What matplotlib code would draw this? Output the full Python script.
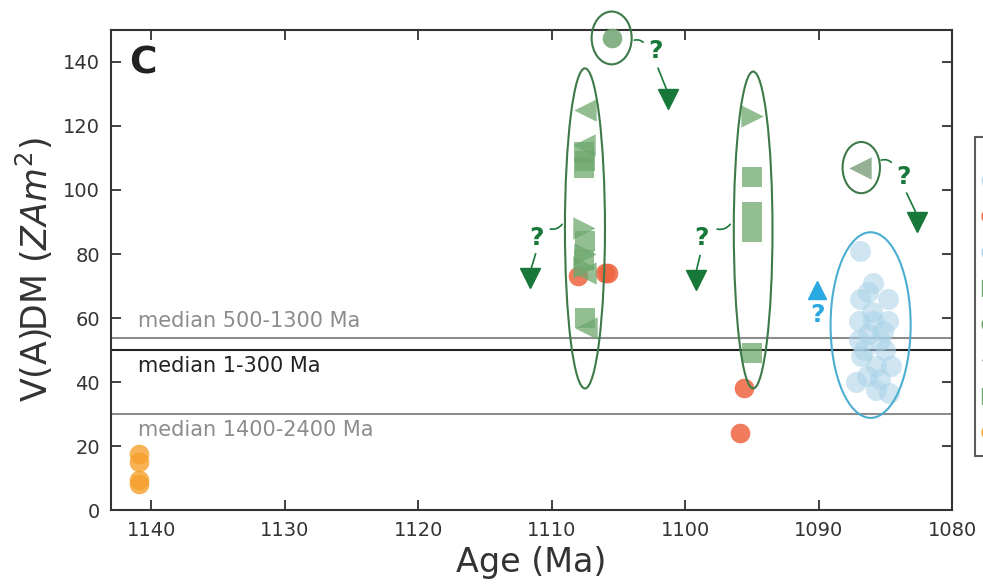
import numpy as np
import matplotlib
matplotlib.use("Agg")
import matplotlib.pyplot as plt
from matplotlib.patches import Ellipse
from matplotlib.lines import Line2D

# ---- data ----
orange_age = [1140.9, 1140.9, 1140.9, 1140.9]
orange_vdm = [17.5, 15, 9.5, 8]

red_age = [1108.0, 1106.0, 1105.8, 1095.6, 1095.9]
red_vdm = [73, 74, 74, 38, 24]

sq_age = [1107.6, 1107.5, 1107.6, 1107.5, 1107.6, 1107.5,
          1095.0, 1095.0, 1095.0, 1095.0]
sq_vdm = [112, 109, 107, 84, 78, 60,
          104, 93, 87, 49]

tri_l_age = [1107.5, 1107.6, 1107.5, 1107.4]
tri_l_vdm = [125, 114, 74, 57]

tri_r_age = [1107.6, 1107.5, 1107.6, 1095.0]
tri_r_vdm = [88, 80, 76, 123]

top_age = [1105.5]
top_vdm = [147.5]

small_age = [1086.9]
small_vdm = [107]

blue_age = [1086.9, 1085.9, 1086.9, 1084.8, 1086.3, 1085.9, 1087.0, 1084.8,
            1086.3, 1087.0, 1085.4, 1085.0, 1086.8, 1085.7, 1084.6, 1086.4,
            1085.4, 1087.2, 1085.7, 1084.7, 1086.0, 1086.6, 1085.2]
blue_vdm = [81, 71, 66, 66, 68, 59, 59, 59,
            55, 53, 53, 50, 48, 45, 45, 42,
            41, 40, 37.5, 36.5, 62, 50, 56]

median_vals = [53.7, 50, 30]
median_cols = ["#8c8c8c", "#222222", "#8c8c8c"]
median_text = ["median 500-1300 Ma", "median 1-300 Ma", "median 1400-2400 Ma"]
median_text_y = [59, 45, 25]

# ellipses: (age centre, vdm centre, width in Ma, height in units, colour)
ellipses = [
    (1107.5, 88, 3.0, 100, "#3d7a48"),
    (1094.9, 87.5, 2.9, 99, "#3d7a48"),
    (1105.5, 147.5, 3.0, 16.5, "#3d7a48"),
    (1086.8, 107, 2.8, 16, "#3d7a48"),
    (1086.1, 57.8, 6.0, 58, "#4aaed0"),
]

# question marks and arrows
q_age = [1102.2, 1111.1, 1098.8, 1083.6]
q_vdm = [143.5, 85, 85, 104]
arrow_age = [1101.3, 1111.6, 1099.2, 1082.6]
arrow_vdm = [128.5, 72.5, 72, 90]
arrow_top = [138, 80, 79.5, 99]
conn_from = [(1104.0, 146.5), (1109.1, 90), (1096.5, 90), (1085.5, 109)]
conn_to = [(1103.0, 145.5), (1110.3, 88), (1097.8, 88), (1084.4, 108)]

green = "#6ea86e"
dark_green = "#18783a"

fig = plt.figure(figsize=(9.83, 5.87), dpi=100)
ax = fig.add_axes([0.113, 0.131, 0.8555, 0.818])

for v, c in zip(median_vals, median_cols):
    ax.axhline(v, color=c, lw=1.5, zorder=1)
for t, ty, c in zip(median_text, median_text_y, median_cols):
    ax.text(1141, ty, t, color=c, fontsize=15, va="center", ha="left")

ax.scatter(orange_age, orange_vdm, s=200, color="#f5a02a", alpha=0.8, lw=0, zorder=3)
ax.scatter(red_age, red_vdm, s=200, color="#ee6440", alpha=0.85, lw=0, zorder=3)
ax.scatter(blue_age, blue_vdm, s=230, color="#a9d2e8", alpha=0.55, lw=0, zorder=3)
ax.scatter(sq_age, sq_vdm, s=220, marker="s", color=green, alpha=0.75, lw=0, zorder=4)
ax.scatter(tri_l_age, tri_l_vdm, s=260, marker="<", color=green, alpha=0.75, lw=0, zorder=4)
ax.scatter(tri_r_age, tri_r_vdm, s=260, marker=">", color=green, alpha=0.75, lw=0, zorder=4)
ax.scatter(top_age, top_vdm, s=200, color="#7aaa7a", alpha=0.9, lw=0, zorder=4, clip_on=False)
ax.scatter(small_age, small_vdm, s=260, marker="<", color="#8aa88a", alpha=0.9, lw=0, zorder=4)

for (xc, yc, w, h, c) in ellipses:
    e = Ellipse((xc, yc), w, h, fill=False, edgecolor=c, lw=1.5, zorder=5, clip_on=False)
    ax.add_patch(e)

for i in range(len(q_age)):
    ax.text(q_age[i], q_vdm[i], "?", color=dark_green, fontsize=18, fontweight="bold",
            ha="center", va="center", zorder=6, clip_on=False)
    ax.plot([q_age[i] + 0.2 * (arrow_age[i] - q_age[i]), arrow_age[i]],
            [arrow_top[i], arrow_vdm[i] + 2], color=dark_green, lw=1.2, zorder=6)
    ax.plot(arrow_age[i], arrow_vdm[i], marker="v", ms=15, color=dark_green, zorder=6)
    ax.annotate("", xy=conn_to[i], xytext=conn_from[i],
                arrowprops=dict(arrowstyle="-", color=dark_green, lw=1.2,
                                connectionstyle="arc3,rad=-0.4"))

# blue question mark pointing up
ax.plot(1090.1, 68.7, marker="^", ms=13, color="#2aa8e0", zorder=6)
ax.text(1090.1, 61, "?", color="#2aa8e0", fontsize=18, fontweight="bold",
        ha="center", va="center", zorder=6)

ax.set_xlim(1143, 1080)
ax.set_ylim(0, 150)
ax.set_xticks(np.arange(1140, 1079, -10))
ax.set_yticks(np.arange(0, 141, 20))
ax.tick_params(direction="in", top=True, right=True, length=7, width=1.3,
               labelsize=14, colors="#333333", pad=8)
for s in ax.spines.values():
    s.set_color("#333333")
    s.set_linewidth(1.5)

ax.set_xlabel("Age (Ma)", fontsize=24, color="#333333", labelpad=4)
ax.set_ylabel("V(A)DM $(ZAm^2)$", fontsize=25, color="#333333", labelpad=6)
ax.text(0.022, 0.93, "C", transform=ax.transAxes, fontsize=27, fontweight="bold",
        color="#222222", va="center", ha="left")

# legend (mostly outside the canvas, as in the reference)
handles = [
    Line2D([], [], marker="o", ls="", color="#a9d2e8", ms=12, alpha=0.6),
    Line2D([], [], marker="o", ls="", color="#ee6440", ms=12),
    Line2D([], [], marker="o", ls="", color="#a9d2e8", ms=12),
    Line2D([], [], marker="s", ls="", color=green, ms=12),
    Line2D([], [], marker="o", ls="", color=green, ms=12),
    Line2D([], [], marker="<", ls="", color="#8aa88a", ms=12),
    Line2D([], [], marker="s", ls="", color=green, ms=12),
    Line2D([], [], marker="o", ls="", color="#f5a02a", ms=12),
]
labels = ["Beaver Bay", "Lake Superior", "Osler", "Logan", "Mamainse", "Coldwell", "Abitibi", "Umkondo"]
fig.legend(handles, labels, loc="upper left", bbox_to_anchor=(0.9915, 0.767),
           frameon=True, fancybox=False, edgecolor="#333333", fontsize=13,
           title=" ", title_fontsize=2,
           labelspacing=1.0, borderpad=0.75, handlelength=0.2, handletextpad=0.6,
           borderaxespad=0)
fig.legends[0].get_frame().set_linewidth(1.5)

fig.savefig("out.png", dpi=100)
